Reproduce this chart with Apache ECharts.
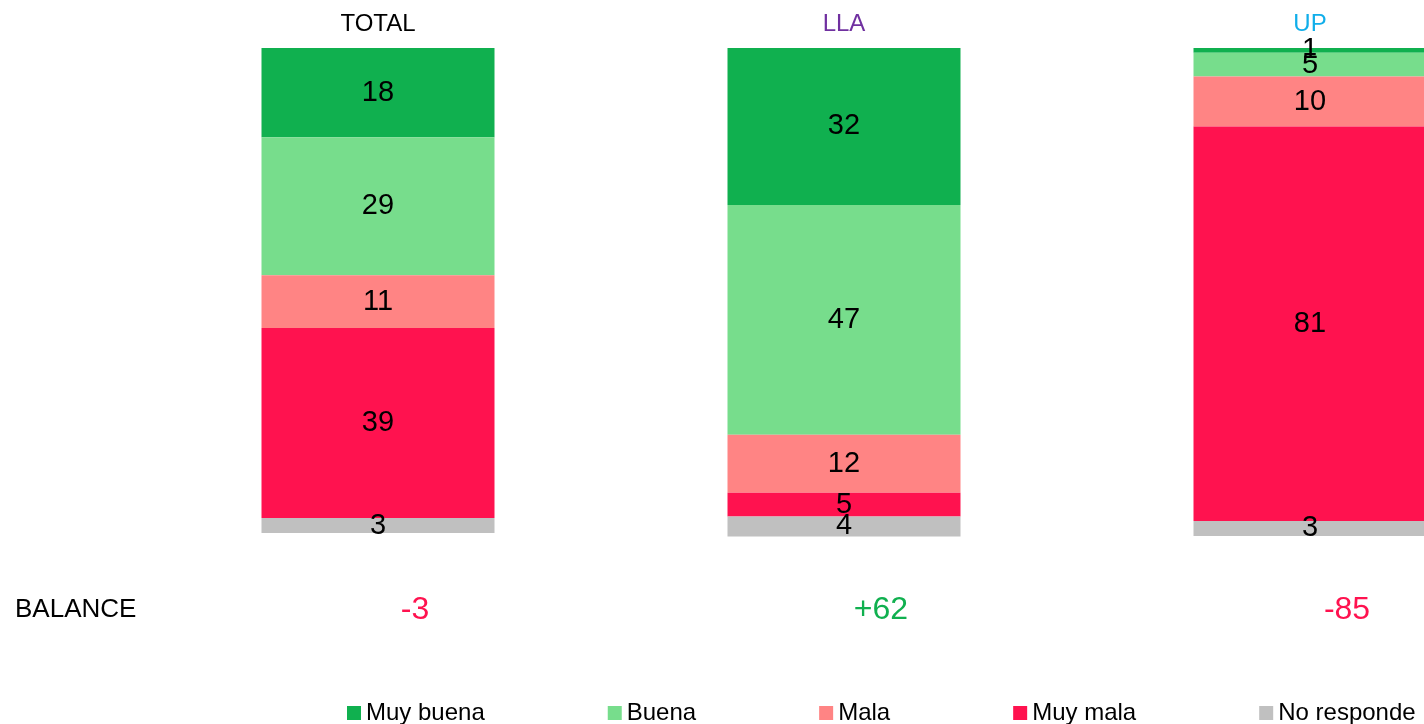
<!DOCTYPE html>
<html>
<head>
<meta charset="utf-8">
<style>
  html, body { margin: 0; padding: 0; background: #fff; }
  #chart { width: 1424px; height: 724px; }
</style>
<script src="https://cdn.jsdelivr.net/npm/echarts@6/dist/echarts.min.js"></script>
</head>
<body>
<div id="chart"></div>
<script>
// columnas
const groups = ['TOTAL', 'LLA', 'UP']
const groupColors = ['#000000', '#7030a0', '#10aeea']

// % por opinión, de arriba hacia abajo
const muyBuena = [18.4, 32.4, 1.0]
const buena = [28.5, 47.4, 4.9]
const mala = [10.9, 12.0, 10.3]
const muyMala = [39.2, 4.9, 81.4]
const noResponde = [3.1, 4.1, 3.1]

const balance = [-3, 62, -85]

const seriesNames = ['Muy buena', 'Buena', 'Mala', 'Muy mala', 'No responde']
const seriesColors = ['#10b04f', '#77dd8c', '#ff8484', '#ff124f', '#c0c0c0']
const seriesValues = [muyBuena, buena, mala, muyMala, noResponde]

const chart = echarts.init(document.getElementById('chart'))

const fontFamily = 'Liberation Sans, Arial, sans-serif'

chart.setOption({
  animation: false,
  textStyle: { fontFamily },
  legend: {
    left: 347,
    top: 701,
    width: 1077,
    padding: 0,
    itemWidth: 14,
    itemHeight: 14,
    itemGap: 123,
    icon: 'rect',
    textStyle: { fontSize: 24, color: '#000', fontFamily },
    data: seriesNames,
  },
  graphic: [{
    type: 'text',
    left: 15,
    top: 597,
    style: { text: 'BALANCE', fontSize: 26, fill: '#000', fontFamily },
  }],
  // la última columna queda cortada por el borde derecho
  grid: {
    left: 145, top: 48, width: 1398, bottom: 143,
    containLabel: false,
    outerBoundsMode: 'none',
  },
  xAxis: [{
    type: 'category',
    position: 'top',
    data: groups.map((g, i) => ({ value: g, textStyle: { color: groupColors[i] } })),
    axisLine: { show: false },
    axisTick: { show: false },
    axisLabel: { fontSize: 24, margin: 12, fontFamily },
  }, {
    type: 'category',
    position: 'bottom',
    data: balance.map(v => ({
      value: (v > 0 ? '+' : '') + v,
      textStyle: { color: v >= 0 ? '#10b04f' : '#ff124f' },
    })),
    axisLine: { show: false },
    axisTick: { show: false },
    // el balance aparece algo corrido a la derecha de cada barra
    axisLabel: { fontSize: 32, margin: 13, padding: [0, 0, 0, 74], fontFamily },
  }],
  yAxis: {
    type: 'value',
    inverse: true,
    min: 0,
    max: 110,
    show: false,
    splitLine: { show: false },
  },
  series: seriesNames.map((name, i) => ({
    name,
    type: 'bar',
    stack: 'total',
    barWidth: '50%',
    xAxisIndex: 0,
    data: seriesValues[i],
    itemStyle: { color: seriesColors[i] },
    label: {
      show: true,
      position: 'inside',
      color: '#000',
      fontSize: 29,
      fontFamily,
      formatter: p => Math.round(p.value),
    },
  })),
})
</script>
</body>
</html>
